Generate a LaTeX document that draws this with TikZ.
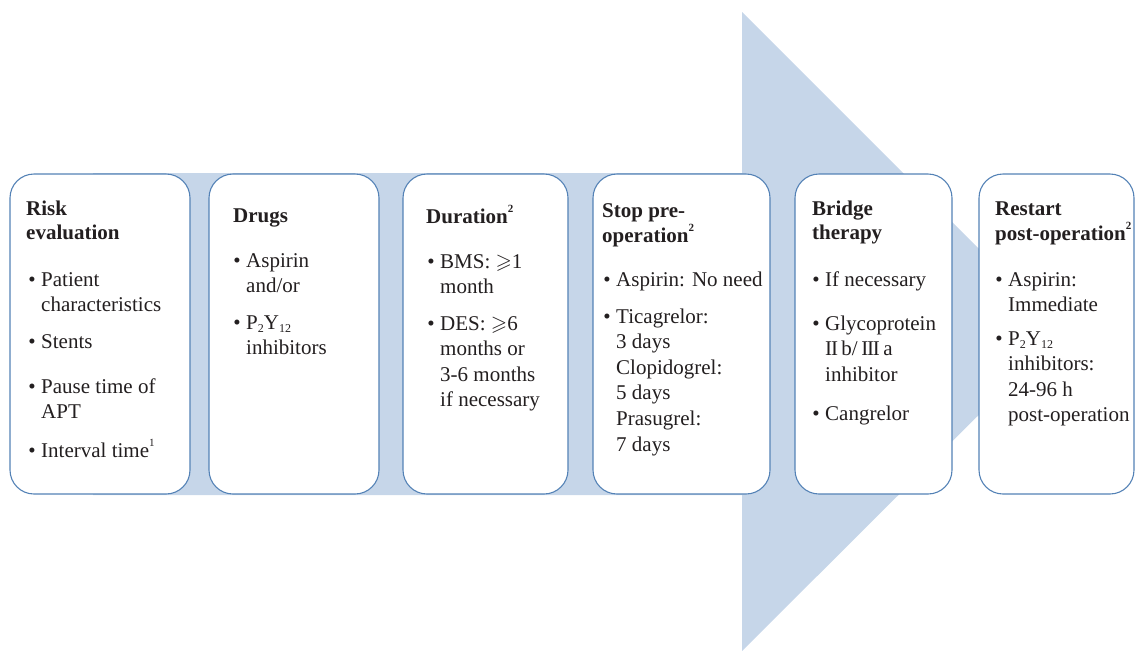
\documentclass[tikz,border=0pt]{standalone}
\usepackage{fontspec}
\setmainfont{Liberation Serif}
\usepackage{amsmath,amssymb}
\usetikzlibrary{positioning}
\definecolor{arrowfill}{RGB}{198,214,233}
\definecolor{boxline}{RGB}{84,130,182}
\definecolor{ink}{RGB}{35,31,32}
\newcommand{\toplines}[1]{\begin{tabular}[t]{@{}l@{}}#1\end{tabular}}
\newcommand{\upnum}[1]{\raisebox{0.52em}{\fontsize{11}{11}\selectfont #1}}
\newcommand{\lownum}[1]{\raisebox{-0.15em}{\fontsize{12}{12}\selectfont #1}}
\tikzset{
  stage/.style={
    draw = boxline,
    line width = 1.1pt,
    fill = white,
    rounded corners = 24pt,
    minimum height = 320pt,
    inner sep = 0pt
  },
  head/.style={
    anchor = base west,
    inner sep = 0pt,
    font = \fontsize{21}{24.5}\selectfont\bfseries
  },
  item/.style={
    anchor = base west,
    inner sep = 0pt,
    font = \fontsize{21}{25.6}\selectfont
  },
  dot/.style={
    anchor = base east,
    inner sep = 0pt,
    xshift = -5pt,
    font = \fontsize{21}{25}\selectfont
  },
}

\begin{document}
\begin{tikzpicture}[x=1pt,y=-1pt,text=ink]
  \useasboundingbox (0,0) rectangle (1136,651);
  \fill[arrowfill] (93,173) -- (742,173) -- (742,12) -- (1062,332)
    -- (742,651) -- (742,495) -- (93,495) -- cycle;
  \foreach \n/\cx/\w in {risk/100/180,drugs/294/170,dur/485.5/165,stop/681.5/177,bridge/873.5/157,restart/1056.5/155}{
    \node[stage, minimum width=\w pt] (\n) at (\cx,334) {};
  }

  \node[head] (riskh) at (26,215) {\toplines{Risk\\evaluation}};
  \node[item] (pat) at (41,286) {\toplines{Patient\\characteristics}};
  \node[item] (stents) at (41,348) {Stents};
  \node[item] (pause) at (41,393) {\toplines{Pause time of\\APT}};
  \node[item] (intv) at (41,457) {Interval time\upnum{1}};

  \node[head] (drugsh) at (233,222) {Drugs};
  \node[item] (asp) at (246,267) {\toplines{Aspirin\\and/or}};
  \node[item] (ptwo) at (246,329) {\toplines{P\lownum{2}Y\lownum{12}\\inhibitors}};

  \node[head] (durh) at (426,223) {Duration\upnum{2}};
  \node[item] (bms) at (440,268) {\toplines{BMS: $\geqslant$1\\month}};
  \node[item] (des) at (440,330) {\toplines{DES: $\geqslant$6\\months or\\3-6 months\\if necessary}};

  \node[head] (stoph) at (602,217) {\toplines{Stop pre-\\operation\upnum{2}}};
  \node[item] (aspn) at (616,286) {Aspirin: No need};
  \node[item] (tica) at (616,323) {\toplines{Ticagrelor:\\3 days\\Clopidogrel:\\5 days\\Prasugrel:\\7 days}};

  \node[head] (bridgeh) at (812,215) {\toplines{Bridge\\therapy}};
  \node[item] (ifn) at (825,286) {If necessary};
  \node[item] (gly) at (825,330) {\toplines{Glycoprotein\\I\kern-1.2pt I\,b/\,I\kern-1.2pt I\kern-1.2pt I\,a\\inhibitor}};
  \node[item] (cang) at (825,420) {Cangrelor};

  \node[head] (restarth) at (995,215) {\toplines{Restart\\post-operation\upnum{2}}};
  \node[item] (aspi) at (1008,286) {\toplines{Aspirin:\\Immediate}};
  \node[item] (pinh) at (1008,345) {\toplines{P\lownum{2}Y\lownum{12}\\inhibitors:\\24-96 h\\post-operation}};

  \foreach \i in {pat,stents,pause,intv,asp,ptwo,bms,des,aspn,tica,ifn,gly,cang,aspi,pinh}{
    \node[dot] (\i d) at (\i.base west) {\textbullet};
  }
\end{tikzpicture}
\end{document}
